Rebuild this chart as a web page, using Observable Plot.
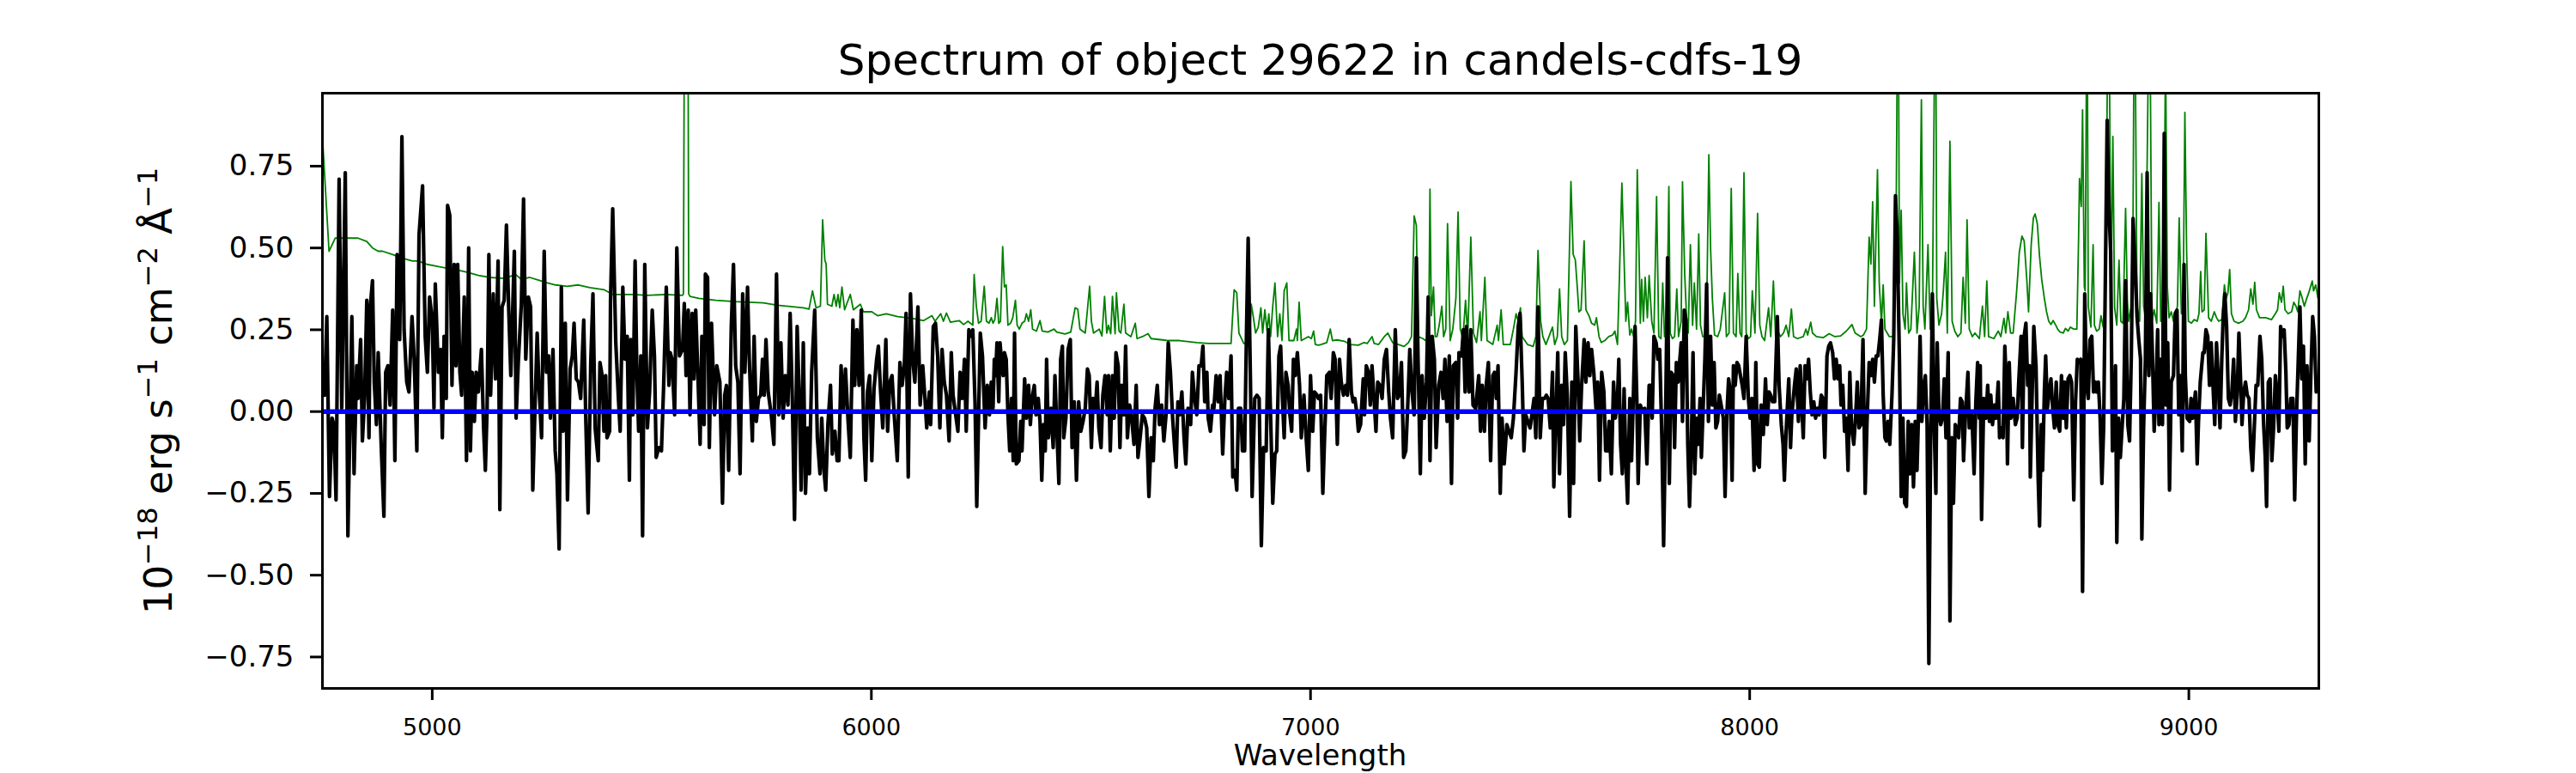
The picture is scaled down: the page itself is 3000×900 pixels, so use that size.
<!DOCTYPE html>
<html><head><meta charset="utf-8">
<script src="https://cdn.jsdelivr.net/npm/d3@7"></script>
<script src="https://cdn.jsdelivr.net/npm/@observablehq/plot@0.6"></script>
<style>body{margin:0;background:#fff;} svg{display:block;}</style>
</head><body><div id="chart"></div><script>
const wave1 = [4750,4755,4760,4766,4772,4776,4781,4788,4794,4802,4808,4817,4822,4828,4831,4837,4841,4846,4851,4856,4859,4864,4868,4873,4877,4884,4890,4894,4899,4904,4910,4915,4920,4926,4931,4936,4942,4947,4954,4959,4965,4970,4978,4984,4989,4994,5000,5004,5007,5014,5019,5023,5027,5032,5035,5040,5045,5050,5054,5058,5063,5067,5073,5078,5083,5087,5091,5096,5100,5105,5112,5117,5121,5125,5129,5133,5139,5144,5150,5154,5159,5164,5169,5174,5179,5187,5191,5196,5203,5208,5213,5219,5224,5229,5234,5239,5243,5249,5255,5260,5265,5269,5275,5280,5284,5289,5294,5298,5303,5308,5314,5319,5323,5328,5333,5338,5345,5350,5355,5361,5366,5371,5378,5382,5387,5391,5395,5398,5404,5406,5411,5418,5424,5428,5434,5439,5444,5449,5452,5457,5462,5466,5470,5475,5479,5484,5490,5495,5501,5506,5510];
const flux1 = [0.06,0.05,0.29,-0.26,-0.02,-0.04,-0.27,0.71,0.01,0.73,-0.38,0.29,-0.19,0.14,0.04,0.22,-0.09,0.04,0.34,-0.08,0.32,0.40,0.09,-0.04,0.18,-0.11,-0.32,0.12,0.14,0.02,0.31,-0.15,0.48,0.22,0.84,0.25,0.09,0.06,0.29,0.16,-0.12,0.54,0.69,0.23,0.12,0.35,0.28,0.01,0.39,0.12,0.19,-0.08,0.23,0.04,0.63,0.60,0.08,0.45,0.14,0.45,0.12,0.05,0.35,-0.15,0.50,-0.12,0.12,-0.03,0.12,0.06,0.19,-0.05,-0.18,0.01,0.48,0.05,0.36,0.10,0.46,-0.30,0.32,0.34,0.57,0.32,0.11,0.49,-0.02,0.15,0.33,0.65,0.16,0.35,0.32,-0.24,0.01,0.24,0.08,-0.08,0.49,0.12,0.17,-0.02,0.19,-0.12,-0.19,-0.42,0.38,-0.06,0.27,-0.27,0.13,0.17,0.27,0.10,0.09,0.04,0.28,-0.04,-0.31,0.15,0.36,-0.05,-0.15,0.15,0.11,-0.06,0.11,-0.08,-0.06,0.34,0.62,0.21,0.04,-0.06,0.38,0.16,0.23,-0.21,0.22,-0.01,0.46,0.12,-0.06,0.17,-0.38,0.45,-0.05,0.06,0.31,0.17,-0.14];
const wave2 = [5516,5522,5527,5533,5539,5542,5546,5552,5557,5563,5570,5574,5578,5583,5587,5592,5596,5600,5605,5610,5614,5619,5622,5627,5631,5636,5643,5648,5655,5661,5666,5670,5675,5681,5686,5691,5696,5701,5707,5712,5718,5722,5729,5733,5738,5743,5748,5752,5756,5760,5765,5772,5778,5784,5789,5794,5799,5804,5810,5815,5820,5825,5831,5836,5840,5845,5850,5855,5859,5864,5871,5877,5883,5887,5892,5896,5901,5907,5911,5917,5922,5926,5931,5936,5941,5947,5952,5958,5962,5967,5972,5977,5983,5987,5991,5996,6001,6006,6012,6016,6021,6026,6033,6037,6042,6047,6052,6059,6065,6070,6075,6079,6084,6089,6094,6099,6106,6111,6117,6122,6126,6132,6135,6141,6146,6151,6156,6161,6166,6171,6177,6182,6186,6192,6197,6202,6207,6212,6216,6222,6226,6231,6236,6240,6248,6253,6259,6264];
const flux2 = [-0.11,-0.12,0.08,0.38,0.08,0.18,0.16,-0.01,0.50,0.17,0.19,0.33,0.11,0.31,-0.01,0.30,0.10,0.31,0.11,-0.10,0.23,-0.04,0.42,0.41,-0.11,0.27,-0.01,0.14,0.09,-0.28,0.05,0.08,-0.18,0.26,0.45,0.14,0.09,-0.19,0.36,0.12,0.38,0.16,-0.09,0.23,-0.03,0.04,0.05,0.16,0.05,0.22,0.06,-0.01,-0.10,0.42,-0.01,0.21,-0.02,0.11,0.02,0.30,0.04,-0.33,0.26,0.03,-0.24,0.21,-0.25,-0.05,-0.19,0.12,0.31,-0.08,-0.19,-0.02,-0.18,-0.24,-0.04,0.08,-0.13,-0.06,-0.15,-0.15,0.14,0.00,0.13,-0.03,-0.14,0.28,0.08,0.25,0.08,0.31,-0.08,-0.21,0.06,0.11,-0.15,0.07,0.16,0.20,0.06,-0.05,0.22,-0.06,0.09,0.11,-0.01,-0.15,0.15,0.08,0.14,0.30,-0.20,0.36,0.16,0.09,0.32,0.02,0.14,0.04,-0.05,0.06,-0.04,0.26,0.27,0.17,-0.05,0.19,0.09,0.05,-0.09,0.18,0.05,-0.01,-0.06,0.12,0.04,0.16,-0.06,0.25,0.23,0.25,0.03,-0.29,0.24,0.17,-0.05,0.08];
const wave3 = [6265,6269,6273,6277,6280,6283,6286,6290,6293,6296,6300,6303,6307,6311,6315,6319,6323,6326,6330,6336,6340,6343,6349,6353,6358,6362,6366,6371,6375,6380,6384,6388,6392,6396,6399,6403,6409,6414,6418,6423,6427,6431,6435,6438,6443,6448,6453,6457,6462,6467,6472,6477,6482,6487,6492,6496,6501,6505,6510,6514,6518,6523,6527,6532,6537,6540,6544,6549,6553,6557,6562,6566,6570,6575,6579,6583,6588,6592,6598,6603,6607,6612,6617,6622,6627,6632,6637,6642,6646,6651,6656,6661,6666,6671,6676,6681,6686,6690,6694,6698,6702,6707,6712,6716,6721,6727,6731,6736,6741,6746,6751,6755,6759,6764,6767,6772,6777,6780,6785,6790,6794,6800,6805,6809,6814,6819,6823,6828,6832,6836,6841,6845,6850,6854,6858,6863,6867,6873,6878,6883,6888,6893,6899,6904,6909,6914,6919,6923,6928,6932,6936,6940,6944,6949,6953,6957,6961,6965,6970,6975,6979,6985,6990,6995,7000,7005,7009,7015,7018];
const flux3 = [0.04,-0.01,0.09,0.01,0.16,0.11,0.21,0.03,0.21,0.16,0.11,0.18,0.16,-0.01,-0.12,0.04,-0.15,0.24,-0.16,-0.15,-0.03,-0.12,0.10,-0.02,0.08,-0.04,0.04,0.08,-0.01,0.04,-0.03,-0.21,-0.04,-0.12,0.16,-0.08,0.01,-0.11,0.11,-0.08,-0.22,0.16,0.20,-0.08,-0.02,0.19,0.22,-0.11,0.03,-0.21,0.03,-0.06,-0.03,0.01,0.13,0.11,-0.11,0.04,0.01,0.09,-0.05,-0.11,0.05,0.11,-0.01,0.11,-0.12,0.11,-0.02,0.18,0.14,-0.11,0.08,-0.01,0.20,-0.08,0.02,-0.01,-0.10,0.08,-0.14,-0.08,-0.01,-0.02,-0.05,-0.26,-0.08,-0.15,0.01,0.08,-0.04,0.02,-0.09,-0.01,0.21,0.12,-0.02,-0.10,-0.17,0.03,-0.01,0.06,-0.08,-0.16,0.01,-0.04,0.12,0.04,-0.01,0.14,0.14,0.20,0.03,0.12,-0.02,-0.06,0.02,0.01,0.11,0.03,0.11,-0.13,0.04,0.12,0.04,0.17,-0.20,-0.18,-0.24,0.01,0.01,-0.12,-0.12,0.23,0.53,0.11,-0.26,0.04,0.05,0.04,-0.41,-0.11,-0.12,0.25,-0.01,-0.28,-0.13,-0.12,0.17,0.20,0.04,-0.08,0.12,0.08,-0.01,-0.06,0.16,0.11,0.18,0.08,-0.08,0.05,-0.08,-0.18,0.11,-0.06,0.06,0.05,0.04];
const wave4 = [7023,7028,7032,7037,7043,7047,7052,7056,7061,7066,7070,7075,7080,7084,7088,7093,7097,7101,7106,7109,7114,7120,7123,7127,7132,7136,7140,7145,7149,7153,7158,7163,7168,7173,7178,7182,7187,7193,7198,7202,7207,7212,7217,7222,7226,7231,7236,7241,7245,7250,7254,7259,7264,7268,7272,7277,7282,7286,7292,7297,7302,7306,7311,7316,7321,7325,7331,7335,7338,7344,7348,7352,7355,7361,7365,7370,7376,7383,7387,7391,7396,7400,7405,7410,7415,7419,7423,7427,7432,7436,7441,7447,7452,7457,7462,7468,7473,7477,7482,7486,7490,7495,7500,7504,7509,7513,7518,7523,7528,7533,7537,7541,7546,7551,7554,7559,7563,7567,7572,7576,7580,7585,7590,7595,7599,7604,7609,7613,7617,7623,7627,7632,7636,7640,7645,7650,7654,7658,7663,7668,7672,7676,7680,7685,7690,7694,7699,7702,7706,7710,7714,7718,7722,7727,7731,7735,7739,7743,7746,7751,7756,7761,7766,7771];
const flux4 = [0.05,-0.25,-0.08,0.11,0.12,0.04,0.18,0.16,-0.10,0.16,0.09,0.05,0.08,0.05,0.22,0.06,0.03,0.04,-0.01,-0.06,-0.04,0.10,-0.01,0.14,0.12,0.02,0.14,0.03,-0.06,0.09,0.08,0.04,0.16,0.19,0.06,-0.02,-0.08,0.25,0.04,0.05,0.15,-0.14,-0.12,0.04,0.19,0.06,-0.01,0.47,0.15,-0.19,0.11,-0.02,0.09,0.35,-0.15,0.23,0.16,-0.11,0.08,0.12,0.04,0.16,-0.03,0.17,-0.22,0.14,0.15,-0.02,0.18,0.17,0.25,0.06,0.26,0.06,0.25,0.02,0.01,0.11,-0.06,0.08,-0.06,0.08,0.15,-0.15,0.11,0.12,0.04,0.14,-0.25,-0.02,-0.16,-0.04,-0.06,-0.08,-0.02,0.12,0.26,0.30,0.09,-0.12,-0.01,-0.03,-0.05,-0.01,0.04,-0.08,0.32,-0.08,0.04,0.04,0.05,0.04,-0.05,0.12,-0.23,0.00,0.18,-0.19,0.08,-0.04,0.18,0.04,-0.32,0.09,-0.22,0.26,0.10,-0.09,0.07,0.22,0.09,0.21,0.11,0.19,0.12,0.01,0.09,-0.21,0.12,0.06,-0.12,-0.12,-0.03,-0.19,0.09,-0.02,0.04,0.16,-0.10,-0.19,0.07,-0.15,-0.28,0.04,-0.15,0.04,0.26,0.04,-0.22,0.02,0.00,0.01,-0.16,0.08];
const wave5 = [7774,7778,7782,7787,7791,7795,7800,7804,7808,7813,7817,7821,7826,7829,7833,7837,7841,7844,7847,7851,7855,7859,7863,7867,7871,7875,7879,7883,7887,7890,7894,7898,7902,7906,7911,7915,7919,7923,7927,7931,7935,7940,7944,7948,7952,7956,7960,7963,7967,7971,7975,7979,7983,7987,7992,7997,8001,8005,8010,8014,8018,8022,8026,8031,8036,8040,8044,8048,8052,8057,8063,8067,8072,8076,8079,8083,8089,8093,8096,8102,8106,8111,8115,8119,8122,8126,8130,8134,8138,8142,8146,8150,8154,8158,8163,8167,8171,8176,8180,8184,8189,8193,8197,8201,8205,8208,8212,8216,8220,8224,8228,8232,8237,8241,8245,8249,8253,8258,8263,8267,8272,8276,8280,8284,8288,8292,8296,8300,8304,8308,8311,8315,8319,8324,8328,8332,8336,8341,8345,8349,8353,8357,8361,8365,8369,8373,8377,8381,8384,8388,8392,8396,8400,8404,8408,8412,8416,8420,8424,8427,8431,8435,8439,8443,8447,8452,8456,8460,8464,8468,8472,8476,8480,8484,8487,8491,8497,8500,8506,8511,8515,8519,8523];
const flux5 = [0.08,-0.02,0.23,0.21,0.16,0.19,-0.08,-0.41,-0.08,0.47,-0.22,0.12,0.11,-0.11,0.15,0.09,0.16,0.21,-0.03,0.31,0.28,-0.10,-0.29,-0.11,0.18,-0.19,-0.02,-0.10,0.04,-0.14,0.01,0.16,0.39,-0.03,0.23,0.02,0.15,-0.05,-0.03,0.05,0.02,-0.02,-0.26,-0.01,0.10,0.06,-0.21,0.14,0.08,0.15,0.14,0.11,0.08,0.04,0.23,0.04,-0.02,0.04,-0.18,0.15,-0.16,-0.17,0.02,-0.07,0.10,-0.04,0.06,0.05,0.03,0.03,0.29,0.08,-0.04,-0.10,-0.21,-0.06,0.10,-0.11,-0.01,0.08,0.13,-0.03,0.14,0.01,-0.08,0.14,0.10,0.16,0.06,-0.01,0.03,-0.02,0.01,-0.01,0.05,0.04,-0.14,0.17,0.20,0.21,0.18,0.10,0.16,0.10,0.14,0.02,0.08,-0.06,-0.02,-0.18,0.12,-0.05,-0.10,-0.02,0.09,-0.05,-0.04,0.22,-0.25,-0.04,0.15,0.11,0.16,0.09,0.17,0.17,0.22,0.28,0.05,-0.08,-0.09,-0.03,-0.10,0.05,0.22,0.66,0.53,0.16,-0.26,-0.02,-0.28,-0.29,-0.03,-0.19,-0.04,-0.23,-0.03,-0.18,-0.03,0.23,-0.03,0.07,0.11,-0.04,-0.77,-0.08,0.36,-0.04,-0.25,0.21,-0.01,-0.04,-0.02,0.10,-0.08,0.18,-0.64,-0.08,-0.28,-0.04,-0.05,-0.08,0.04,0.03,-0.15,-0.02,0.12,-0.05,-0.01,-0.19,0.03,0.15,-0.02];
const wave6 = [8525,8528,8533,8538,8542,8546,8549,8553,8557,8561,8566,8569,8573,8577,8581,8585,8587,8591,8595,8600,8605,8609,8613,8618,8621,8625,8629,8633,8637,8639,8643,8647,8652,8657,8660,8664,8667,8671,8674,8678,8682,8686,8690,8694,8698,8702,8706,8710,8714,8717,8721,8725,8729,8733,8738,8742,8746,8750,8754,8758,8763,8767,8771,8775,8779,8783,8787,8790,8794,8798,8802,8806,8810,8814,8818,8822,8826,8830,8833,8836,8840,8844,8848,8852,8856,8861,8865,8869,8873,8878,8882,8886,8890,8893,8897,8901,8905,8909,8913,8917,8921,8925,8929,8932,8936,8940,8944,8948,8952,8956,8960,8965,8969,8973,8977,8981,8985,8989,8992,8996,9002,9005,9009,9015,9019,9022,9026,9032,9035,9039,9043,9047,9051,9055,9059,9063,9067,9071,9075,9078,9082,9086,9090,9094,9098,9102,9106,9110,9114,9118,9121,9125,9129,9133,9137,9141,9145,9149,9153,9157,9162,9166,9170,9174,9177,9181,9185,9189,9193,9197,9201,9205,9209,9213,9217,9221,9224,9228,9232,9237,9241,9245,9249,9253,9257,9261,9265,9269,9274,9278,9282,9286,9290,9294];
const flux6 = [0.14,-0.33,0.04,-0.02,0.08,-0.03,0.05,-0.04,0.02,-0.02,0.09,-0.08,-0.05,-0.08,0.20,0.06,-0.16,0.15,-0.02,0.04,-0.04,-0.02,0.10,0.23,-0.11,0.23,0.27,0.08,0.14,-0.20,0.04,0.26,0.14,-0.21,-0.35,-0.04,-0.18,0.06,0.17,0.01,0.06,0.10,0.01,-0.05,0.09,-0.04,-0.06,0.11,-0.02,0.09,-0.05,0.10,0.11,0.09,-0.27,0.03,0.16,0.15,0.16,-0.55,0.36,0.09,0.04,0.22,0.23,0.06,0.09,0.06,0.09,-0.02,-0.22,-0.05,0.42,0.89,0.62,0.49,-0.12,-0.11,0.14,-0.40,-0.02,-0.14,-0.05,0.04,0.40,-0.04,-0.09,0.17,0.59,0.44,0.29,0.22,0.16,-0.39,-0.05,0.16,0.73,0.11,0.36,0.18,-0.06,0.06,0.25,-0.04,0.16,-0.04,0.85,0.02,0.21,-0.24,0.09,0.11,0.30,0.31,-0.01,0.11,-0.12,0.45,0.11,-0.02,-0.03,0.04,-0.02,0.06,-0.16,-0.03,0.09,0.18,0.18,0.25,0.23,0.08,0.21,0.08,-0.04,0.21,0.10,-0.05,0.16,0.28,0.36,0.26,0.04,0.02,0.06,0.16,-0.03,0.05,0.24,0.09,-0.04,0.06,0.09,0.05,0.04,-0.11,-0.18,-0.05,0.08,0.08,0.23,0.16,-0.03,-0.14,-0.29,0.09,0.10,-0.15,-0.05,0.11,0.05,-0.06,0.26,0.23,0.25,0.12,-0.05,-0.04,0.04,0.04,-0.27,-0.02,0.15,0.32,0.10,0.20,-0.16,0.14,-0.09,0.12,0.29,0.23,0.06,0.09];

// ---- noise / sky spectrum (green) ----
const skyWave1 = [4750,4765,4779,4805,4831,4851,4864,4877,4887,4910,4929,4955,4968,4988,5007,5027,5053,5079,5105,5131,5164,5190,5203,5222,5242,5262,5281,5307,5333,5359,5392,5411,5457,5490];
const sky1 = [0.84,0.49,0.53,0.53,0.53,0.52,0.50,0.49,0.49,0.48,0.47,0.46,0.46,0.45,0.445,0.44,0.434,0.426,0.416,0.41,0.407,0.419,0.404,0.41,0.402,0.393,0.387,0.383,0.387,0.379,0.372,0.358,0.358,0.355];
const skyWave2 = [5532,5570,5572,5575,5582,5584,5587,5607,5646,5688,5754,5786,5845,5858,5866,5874,5884,5889,5894,5897,5900,5910,5915,5920,5924,5928,5933,5939,5952,5959,5975,5982,6001,6014,6034,6060,6093,6119,6138,6145,6158,6164,6171,6180,6200,6210,6220,6231,6234,6239,6244,6250,6257,6262];
const sky2 = [0.358,0.355,0.36,1.5,1.5,0.36,0.352,0.346,0.340,0.336,0.332,0.325,0.317,0.313,0.369,0.317,0.322,0.586,0.463,0.451,0.328,0.322,0.358,0.322,0.358,0.317,0.381,0.311,0.358,0.311,0.328,0.305,0.305,0.293,0.299,0.290,0.285,0.278,0.293,0.276,0.299,0.276,0.301,0.273,0.278,0.266,0.276,0.264,0.419,0.322,0.270,0.276,0.383,0.276];
const skyWave3 = [6268,6273,6277,6281,6286,6290,6294,6299,6303,6307,6311,6317,6322,6328,6332,6337,6343,6349,6353,6358,6363,6367,6376,6384,6389,6402,6416,6422,6441,6454,6464,6470,6475,6487,6497,6501,6506,6519,6525,6531,6536,6540,6545,6549,6555,6558,6564,6568,6575,6579,6591,6601,6605,6617,6630,6637,6663,6676,6702,6741,6767,6806,6819,6826,6832,6837,6848,6861,6865,6870,6875,6881,6887,6891,6896,6901,6905,6909,6914,6919,6925,6930,6935,6940,6946,6951,6962,6968,6970,6974,6979,6995,7002,7007,7011,7018];
const sky3 = [0.270,0.287,0.270,0.281,0.346,0.270,0.276,0.504,0.381,0.387,0.264,0.270,0.287,0.340,0.264,0.252,0.270,0.276,0.299,0.276,0.311,0.252,0.246,0.278,0.246,0.243,0.252,0.243,0.237,0.243,0.317,0.313,0.252,0.240,0.383,0.276,0.240,0.252,0.231,0.352,0.240,0.264,0.238,0.352,0.238,0.363,0.246,0.240,0.328,0.240,0.229,0.270,0.223,0.229,0.238,0.223,0.219,0.217,0.217,0.211,0.208,0.208,0.208,0.372,0.363,0.240,0.208,0.205,0.328,0.287,0.240,0.258,0.317,0.240,0.311,0.246,0.299,0.229,0.322,0.393,0.229,0.299,0.217,0.369,0.393,0.217,0.217,0.252,0.217,0.334,0.217,0.229,0.223,0.246,0.205,0.203];
const skyWave4 = [7024,7037,7045,7050,7060,7077,7090,7109,7122,7129,7140,7145,7155,7168,7176,7187,7200,7213,7223,7230,7236,7241,7245,7256,7262,7269,7272,7275,7280,7284,7288,7293,7299,7303,7308,7312,7318,7324,7331,7336,7341,7347,7353,7358,7365,7371,7378,7386,7389,7397,7402,7415,7425,7428,7434,7439,7455,7462,7468,7473,7478,7482,7494,7507,7513,7518,7524,7529,7536,7543,7551,7556,7562,7567,7572,7578,7585,7593,7598,7603,7608,7611,7616,7623,7627,7634,7640,7647,7651,7657,7662,7670,7679,7688,7693,7699,7703,7709,7714,7718,7722,7727,7731,7736,7740,7744,7748,7751,7754,7758,7762,7767,7771];
const sky4 = [0.205,0.211,0.252,0.217,0.219,0.215,0.205,0.203,0.211,0.208,0.229,0.208,0.205,0.229,0.240,0.211,0.205,0.199,0.211,0.229,0.598,0.569,0.229,0.223,0.217,0.229,0.680,0.293,0.381,0.229,0.229,0.264,0.322,0.229,0.252,0.574,0.217,0.252,0.346,0.610,0.252,0.223,0.340,0.229,0.533,0.240,0.211,0.305,0.217,0.410,0.217,0.205,0.264,0.217,0.311,0.205,0.205,0.252,0.299,0.276,0.317,0.229,0.205,0.199,0.229,0.492,0.276,0.229,0.205,0.229,0.258,0.205,0.229,0.375,0.229,0.205,0.217,0.703,0.481,0.463,0.369,0.305,0.311,0.522,0.311,0.293,0.270,0.264,0.287,0.229,0.211,0.217,0.229,0.234,0.246,0.205,0.393,0.698,0.463,0.276,0.334,0.234,0.252,0.229,0.276,0.739,0.487,0.270,0.404,0.276,0.410,0.287,0.416];
const skyWave5 = [7774,7777,7782,7788,7793,7798,7802,7806,7811,7816,7819,7824,7829,7834,7838,7844,7847,7852,7857,7860,7865,7870,7874,7879,7884,7888,7893,7898,7902,7907,7911,7915,7920,7927,7933,7943,7947,7953,7958,7963,7969,7973,7978,7982,7987,7992,7997,8002,8006,8012,8018,8023,8028,8034,8043,8048,8054,8059,8064,8070,8077,8083,8089,8095,8100,8109,8122,8128,8132,8139,8143,8152,8168,8181,8194,8207,8220,8233,8240,8253,8259,8266,8272,8276,8280,8284,8291,8295,8300,8304,8308,8318,8328,8333,8336,8339,8341,8345,8349,8354,8357,8362,8367,8375,8381,8386,8391,8395,8399,8406,8411,8416,8421,8424,8426,8431,8437,8441,8446,8450,8456,8461,8467,8474,8481,8486,8491,8495,8500,8507,8513,8523];
const sky5 = [0.346,0.276,0.240,0.657,0.229,0.223,0.393,0.229,0.229,0.688,0.240,0.223,0.229,0.375,0.229,0.276,0.702,0.422,0.264,0.240,0.510,0.264,0.393,0.252,0.543,0.264,0.229,0.229,0.299,0.785,0.498,0.346,0.234,0.229,0.252,0.363,0.229,0.240,0.682,0.240,0.229,0.422,0.240,0.229,0.730,0.240,0.223,0.229,0.369,0.240,0.606,0.264,0.229,0.217,0.317,0.229,0.399,0.229,0.246,0.229,0.240,0.264,0.229,0.313,0.229,0.223,0.229,0.252,0.234,0.273,0.240,0.229,0.226,0.238,0.229,0.231,0.246,0.266,0.240,0.229,0.234,0.252,0.533,0.451,0.641,0.322,0.739,0.393,0.270,0.387,0.252,0.229,0.229,0.487,1.1,1.1,0.393,0.615,0.299,0.252,0.393,0.240,0.252,0.487,0.240,0.322,0.953,0.322,0.252,0.510,0.252,0.299,1.1,1.1,0.346,0.264,0.299,0.369,0.487,0.240,0.826,0.276,0.246,0.229,0.240,0.410,0.270,0.586,0.252,0.229,0.240,0.223];
const skyWave6 = [8530,8535,8540,8544,8556,8566,8572,8579,8583,8588,8594,8600,8608,8614,8620,8625,8631,8635,8641,8646,8650,8655,8660,8665,8671,8676,8681,8686,8691,8697,8702,8707,8714,8719,8725,8730,8738,8745,8749,8751,8755,8758,8762,8764,8767,8769,8771,8777,8782,8785,8790,8796,8800,8805,8810,8815,8819,8822,8823,8827,8831,8836,8841,8845,8850,8856,8860,8863,8869,8873,8875,8878,8882,8888,8893,8897,8901,8908,8912,8916,8921,8927,8932,8936,8942,8947,8951,8955,8960,8965,8970,8974,8978,8983,8987,8991,8995,8999,9006,9012,9019,9023,9027,9030,9035,9039,9045,9051,9058,9063,9068,9075,9081,9085,9089,9093,9097,9103,9113,9123,9129,9136,9141,9146,9150,9154,9161,9175,9188,9197,9202,9206,9211,9215,9219,9226,9234,9239,9244,9248,9253,9257,9263,9267,9273,9277,9281,9284,9289,9294];
const sky6 = [0.322,0.229,0.399,0.229,0.223,0.246,0.229,0.285,0.240,0.305,0.240,0.240,0.369,0.487,0.536,0.522,0.404,0.305,0.510,0.592,0.604,0.574,0.475,0.404,0.346,0.305,0.276,0.266,0.278,0.264,0.250,0.243,0.240,0.254,0.246,0.258,0.252,0.252,0.533,0.712,0.627,0.922,0.381,0.369,1.1,1.1,0.322,0.258,0.510,0.264,0.246,0.252,0.293,0.258,0.346,1.1,1.1,0.510,0.369,0.841,0.317,0.264,0.463,0.276,0.270,0.621,0.340,0.276,0.322,0.598,1.1,1.1,0.322,0.276,0.727,0.322,0.287,1.1,1.1,0.276,0.311,0.270,0.639,0.276,0.322,1.1,0.381,0.287,0.305,0.276,0.299,0.322,0.592,0.299,0.328,0.914,0.487,0.276,0.270,0.281,0.276,0.299,0.428,0.305,0.311,0.545,0.287,0.276,0.305,0.287,0.276,0.281,0.387,0.346,0.363,0.434,0.299,0.276,0.270,0.276,0.287,0.311,0.375,0.328,0.395,0.311,0.287,0.287,0.281,0.299,0.311,0.363,0.334,0.383,0.311,0.299,0.305,0.334,0.322,0.305,0.369,0.352,0.322,0.340,0.363,0.381,0.399,0.369,0.387,0.346];

// ---- model (blue) ----
const modelWave = [4750, 9296];
const modelFlux = [0, 0];

// ---- axes ----
const xDomain = [4750, 9296];
const yDomain = [-0.846, 0.973];
const xTicks = [5000, 6000, 7000, 8000, 9000];
const yTicks = [-0.75, -0.50, -0.25, 0.00, 0.25, 0.50, 0.75];

function table(ws, vs) {
  const rows = [];
  ws.forEach((w, k) => { const v = vs[k]; const n = Math.min(w.length, v.length); for (let i = 0; i < n; i++) rows.push({w: w[i], f: v[i]}); });
  return rows;
}
const fluxRows = table([wave1,wave2,wave3,wave4,wave5,wave6],[flux1,flux2,flux3,flux4,flux5,flux6]);
const skyRows = table([skyWave1,skyWave2,skyWave3,skyWave4,skyWave5,skyWave6],[sky1,sky2,sky3,sky4,sky5,sky6]);
const modelRows = table([modelWave],[modelFlux]);

const yfmt = d => (d < 0 ? "\u2212" : "") + Math.abs(d).toFixed(2);

const chart = Plot.plot({
  width: 3000, height: 900,
  marginLeft: 375, marginRight: 300, marginTop: 108, marginBottom: 99,
  x: {domain: xDomain},
  y: {domain: yDomain},
  style: {fontFamily: "DejaVu Sans", background: "white", color: "black"},
  marks: [
    Plot.line(skyRows, {x: "w", y: "f", stroke: "#008000", strokeWidth: 1.8, clip: true}),
    Plot.line(fluxRows, {x: "w", y: "f", stroke: "black", strokeWidth: 4.2, clip: true}),
    Plot.line(modelRows, {x: "w", y: "f", stroke: "#0000ff", strokeWidth: 5.5, clip: true}),
    Plot.axisX(xTicks, {tickSize: 14, tickPadding: 21, fontSize: 27, strokeWidth: 3, tickFormat: d => String(d), label: null}),
    Plot.axisY(yTicks, {tickSize: 14, tickPadding: 19, fontSize: 34, strokeWidth: 3, tickFormat: yfmt, label: null}),
    Plot.frame({stroke: "black", strokeWidth: 3})
  ]
});
document.getElementById("chart").appendChild(chart);

const svg = d3.select(chart);
const cx = (375 + 2700) / 2;
svg.append("text").attr("x", cx).attr("y", 87).attr("text-anchor", "middle")
  .attr("font-family", "DejaVu Sans").attr("font-size", 50).attr("fill", "black")
  .text("Spectrum of object 29622 in candels-cdfs-19");
svg.append("text").attr("x", cx).attr("y", 891).attr("text-anchor", "middle")
  .attr("font-family", "DejaVu Sans").attr("font-size", 34).attr("fill", "black")
  .text("Wavelength");
const yl = svg.append("text").attr("transform", "translate(200,455) rotate(-90)")
  .attr("text-anchor", "middle").attr("font-family", "DejaVu Sans")
  .attr("font-size", 45).attr("fill", "black").style("white-space", "pre");
const parts = [["10", false], ["\u221218", true], [" erg s", false], ["\u22121", true], [" cm", false], ["\u22122", true], [" \u00C5", false], ["\u22121", true]];
let raised = false;
parts.forEach(([t, sup]) => {
  const ts = yl.append("tspan").text(t);
  if (sup) { ts.attr("font-size", 32); if (!raised) { ts.attr("dy", -17); raised = true; } }
  else if (raised) { ts.attr("dy", 17); raised = false; }
});
</script></body></html>
